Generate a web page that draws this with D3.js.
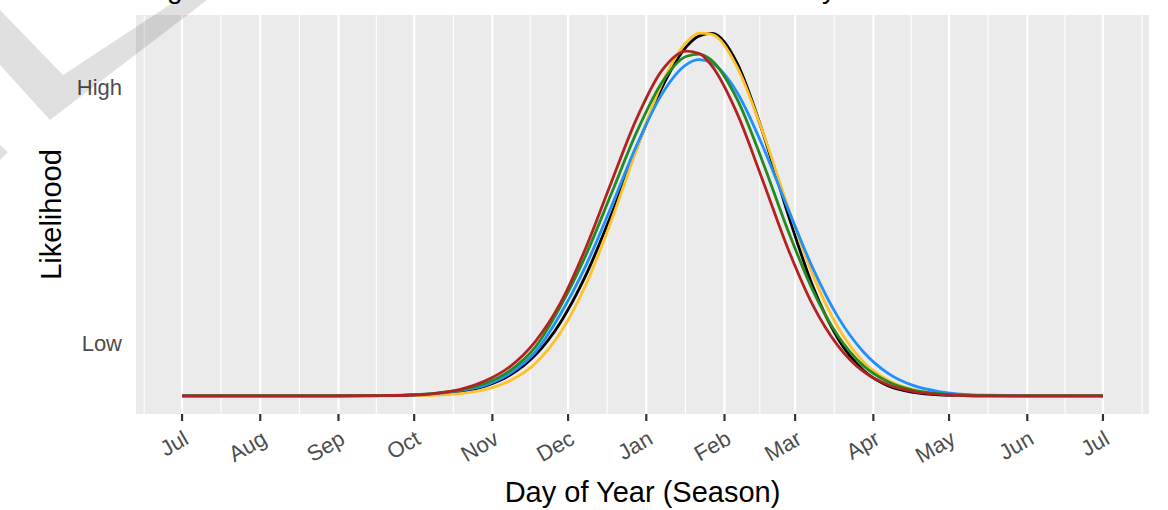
<!DOCTYPE html>
<html><head><meta charset="utf-8">
<script src="https://cdn.jsdelivr.net/npm/d3@7"></script>
<style>body{margin:0;background:#fff} svg{display:block}</style>
</head><body><svg id="chart" width="1168" height="510"></svg>
<script>
// day offsets since season start (1 Jul)
const sampleDays = [0,30,60,80,90,100,110,120,130,140,150,160,170,180,190,200,205,210,220,230,240,250,260,270,280,290,300,310,320,340,365];
const blackValues  = [0,0,0,0.001,0.002,0.005,0.013,0.031,0.067,0.132,0.238,0.390,0.584,0.799,0.995,1.132,1.166,1.174,1.078,0.858,0.593,0.355,0.185,0.083,0.032,0.011,0.003,0.001,0,0,0];
const yellowValues = [0,0,0,0,0.001,0.002,0.007,0.020,0.049,0.105,0.205,0.359,0.564,0.795,1.008,1.146,1.175,1.171,1.065,0.859,0.616,0.392,0.222,0.111,0.050,0.020,0.007,0.002,0.001,0,0];
const blueValues   = [0,0,0,0.001,0.002,0.007,0.017,0.034,0.073,0.142,0.265,0.421,0.610,0.808,0.975,1.074,1.089,1.078,0.983,0.812,0.609,0.414,0.255,0.143,0.072,0.033,0.014,0.005,0.002,0,0];
const greenValues  = [0,0,0,0.001,0.003,0.008,0.019,0.040,0.082,0.158,0.290,0.455,0.652,0.851,1.013,1.100,1.107,1.086,0.961,0.761,0.539,0.342,0.194,0.098,0.045,0.018,0.007,0.002,0.001,0,0];
const redValues    = [0,0,0,0.001,0.002,0.007,0.020,0.048,0.095,0.176,0.301,0.479,0.689,0.895,1.052,1.117,1.109,1.069,0.915,0.701,0.480,0.294,0.162,0.079,0.035,0.014,0.005,0.001,0,0,0];
const seriesColors = ["#000000","#FFC125","#1E90FF","#228B22","#B22222"];
const yTickValues = [0.17, 1];
const yTickLabels = ["Low","High"];
const xTickLabels = ["Jul","Aug","Sep","Oct","Nov","Dec","Jan","Feb","Mar","Apr","May","Jun","Jul"];
const xTitle = "Day of Year (Season)";
const yTitle = "Likelihood";

const seasonStart = new Date(Date.UTC(2018,6,1));
const seasonEnd = new Date(Date.UTC(2019,6,1));
const series = [blackValues,yellowValues,blueValues,greenValues,redValues];

const svg = d3.select("#chart");
const font = "'Liberation Sans', Arial, Helvetica, sans-serif";
const L = 136, R = 1149, T = 15, B = 414;
const padMs = 18.25*86400000;
const x = d3.scaleUtc().domain([new Date(+seasonStart - padMs), new Date(+seasonEnd + padMs)]).range([L, R]);
const maxV = d3.max(series.flat());
const y = d3.scaleLinear().domain([-0.05*maxV, 1.05*maxV]).range([B, T]);

svg.append("rect").attr("x",L).attr("y",T).attr("width",R-L).attr("height",B-T).attr("fill","#EBEBEB");

const majors = d3.utcMonth.range(seasonStart, d3.utcDay.offset(seasonEnd,1));
const ext = [d3.utcMonth.offset(majors[0],-1), ...majors, d3.utcMonth.offset(majors[majors.length-1],1)];
const minors = [];
for (let i=0;i<ext.length-1;i++){ const m = new Date((+ext[i] + +ext[i+1])/2); const px = x(m); if (px>L && px<R) minors.push(m); }
svg.append("g").selectAll("line").data(minors).join("line")
  .attr("x1",d=>x(d)).attr("x2",d=>x(d)).attr("y1",T).attr("y2",B)
  .attr("stroke","#fff").attr("stroke-width",1.1);
svg.append("g").selectAll("line").data(majors).join("line")
  .attr("x1",d=>x(d)).attr("x2",d=>x(d)).attr("y1",T).attr("y2",B)
  .attr("stroke","#fff").attr("stroke-width",2.2);

const line = d3.line().x((d,i)=>x(d3.utcDay.offset(seasonStart, sampleDays[i]))).y(d=>y(d)).curve(d3.curveMonotoneX);
svg.append("g").selectAll("path").data(series).join("path")
  .attr("d",d=>line(d)).attr("fill","none").attr("stroke",(d,i)=>seriesColors[i])
  .attr("stroke-width",2.8).attr("stroke-linejoin","round");

// x axis ticks + labels
const xa = svg.append("g");
xa.selectAll("line").data(majors).join("line")
  .attr("x1",d=>x(d)).attr("x2",d=>x(d)).attr("y1",B).attr("y2",B+7)
  .attr("stroke","#333").attr("stroke-width",2.2);
xa.selectAll("text").data(majors).join("text")
  .attr("transform",d=>`translate(${x(d)+8},443) rotate(-30)`)
  .attr("text-anchor","end").attr("font-family",font).attr("font-size",22).attr("fill","#4D4D4D")
  .text((d,i)=>xTickLabels[i]);

// y labels
svg.append("g").selectAll("text").data(yTickValues).join("text")
  .attr("x",122).attr("y",d=>y(d)).attr("dy","0.35em").attr("text-anchor","end")
  .attr("font-family",font).attr("font-size",22).attr("fill","#4D4D4D")
  .text((d,i)=>yTickLabels[i]);

svg.append("text").attr("x",(L+R)/2).attr("y",502).attr("text-anchor","middle")
  .attr("font-family",font).attr("font-size",29).attr("fill","#000").text(xTitle);
svg.append("text").attr("transform",`translate(61,${(T+B)/2}) rotate(-90)`).attr("text-anchor","middle")
  .attr("font-family",font).attr("font-size",29).attr("fill","#000").text(yTitle);

// clipped title fragments (descenders visible at top edge)
svg.append("text").attr("x",167).attr("y",-2).attr("font-family",font).attr("font-size",28).attr("fill","#000").text("g");
svg.append("text").attr("x",822).attr("y",-2).attr("font-family",font).attr("font-size",28).attr("fill","#000").text("y");

// watermark
const wm = svg.append("g").attr("fill","#000").attr("fill-opacity",0.12);
wm.append("polygon").attr("points","0,10 63,75 177,0 207,0 50,120 0,65");
wm.append("polygon").attr("points","0,145 8,152 0,160");
</script></body></html>
